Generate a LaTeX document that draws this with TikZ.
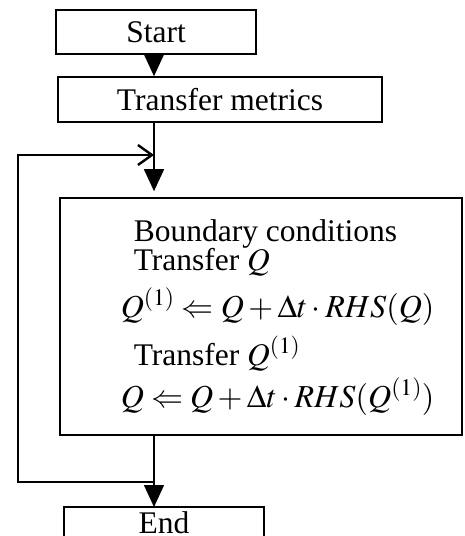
\documentclass[tikz,border=0pt]{standalone}
\usepackage{mathptmx}
\usepackage[no-math]{fontspec}
\setmainfont{Liberation Serif}
\usetikzlibrary{arrows.meta}
\begin{document}
\begin{tikzpicture}[x=1pt,y=-1pt, line width=1.6pt,
 box/.style={draw, line width=1.6pt, inner sep=0pt, font=\fontsize{31.5}{36}\selectfont},
 txt/.style={inner sep=0pt, anchor=base west, font=\fontsize{31.5}{36}\selectfont},
 eqn/.style={inner sep=0pt, anchor=base west, font=\fontsize{32}{36}\selectfont},
 tri/.style={-{Triangle[length=22pt,width=20pt]}},
 barb/.style={-{Straight Barb[length=14pt,width=20pt,line width=2.4pt]}}
 ]
\fill[white] (0,0) rectangle (464,536);
\clip (0,0) rectangle (464,536);
\useasboundingbox (0,0) rectangle (464,536);
\node[box, minimum width=200pt, minimum height=44pt] (start) at (156,32) {Start};
\node[box, minimum width=324pt, minimum height=45pt] (tm) at (220,99.5) {Transfer metrics};
\node[box, minimum width=402pt, minimum height=237pt] (bb) at (261,316.5) {};
\node[txt, anchor=base] (endt) at (164,533) {End};
\coordinate (ebl) at (64,548);
\coordinate (ebr) at (264,548);
\coordinate (etl) at (64,507);
\coordinate (etr) at (264,507);
\draw (ebl) -- (etl) -- (etr) -- (ebr);
\node[txt] (l1) at (133,241) {Boundary conditions};
\node[txt] (l2) at (133,270) {Transfer $Q$};
\node[eqn] (l3) at (120,317) {$Q^{(1)} \Leftarrow Q + \Delta t \cdot RHS(Q)$};
\node[txt] (l4) at (133,365) {Transfer $Q^{(1)}$};
\node[eqn] (l5) at (120,407) {$Q \Leftarrow Q + \Delta t \cdot RHS(Q^{(1)})$};
\coordinate (ax) at (154,0);
\coordinate (lt) at (18,155);
\coordinate (lb) at (18,482);
\draw[tri] (start.south -| ax) -- (tm.north -| ax);
\draw[tri] (tm.south -| ax) -- ([yshift=6pt]bb.north -| ax);
\draw[tri] (bb.south -| ax) -- (etl -| ax);
\draw[barb] (ax |- lb) -- (lb) -- (lt) -- (ax |- lt);
\end{tikzpicture}
\end{document}
